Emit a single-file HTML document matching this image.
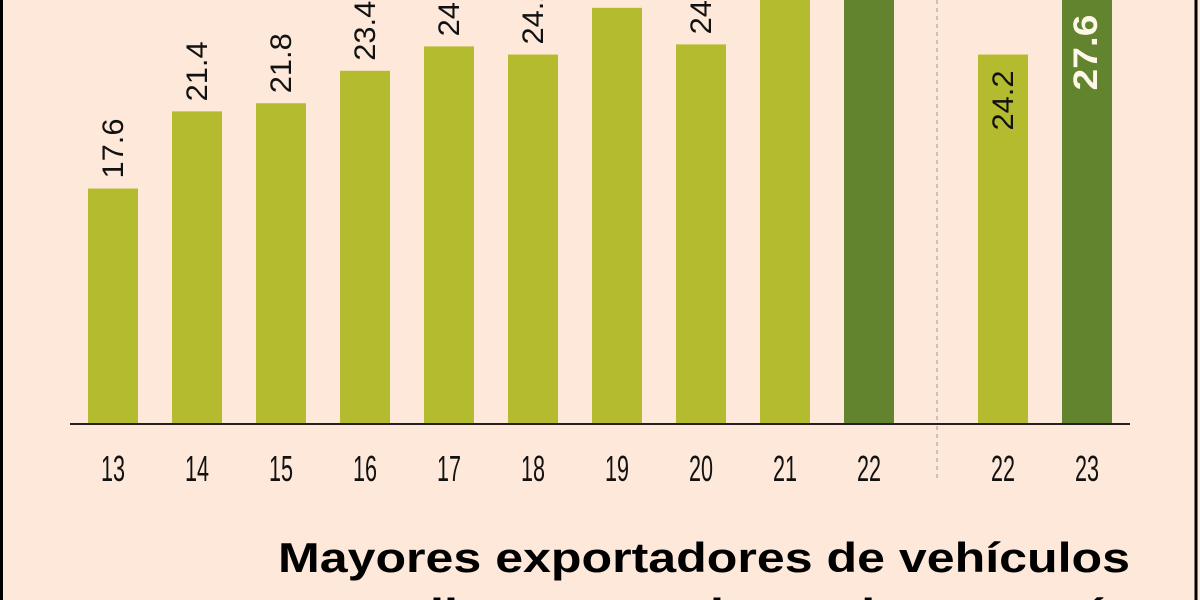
<!DOCTYPE html>
<html><head><meta charset="utf-8"><style>
html,body{margin:0;padding:0;background:#fde8da;width:1200px;height:600px;overflow:hidden;}
svg{display:block;}
</style></head><body>
<svg width="1200" height="600" viewBox="0 0 1200 600" font-family="Liberation Sans, sans-serif">
<rect x="0" y="0" width="1200" height="600" fill="#fde8da"/>
<line x1="1.5" y1="0" x2="1.5" y2="600" stroke="#000" stroke-width="3"/>
<line x1="1196" y1="0" x2="1196" y2="600" stroke="#000" stroke-width="3"/>
<g id="bars"></g>
<g id="labels"></g>
<g id="ticks"></g>
<line x1="70" y1="424" x2="1130" y2="424" stroke="#222" stroke-width="2"/>
<line x1="937" y1="426" x2="937" y2="480" stroke="#999" stroke-width="1" stroke-dasharray="4,4"/>
<line x1="937" y1="0" x2="937" y2="420" stroke="#999" stroke-width="1" stroke-dasharray="4,4"/>
<text x="1130" y="572" text-anchor="end" font-size="42" font-weight="bold" fill="#000" textLength="852" lengthAdjust="spacingAndGlyphs">Mayores exportadores de vehículos</text>
<text x="1130" y="628" text-anchor="end" font-size="42" font-weight="bold" fill="#000" textLength="700" lengthAdjust="spacingAndGlyphs">ligeros en el mundo, por país</text>
</svg>
<script>
const categories = ["13","14","15","16","17","18","19","20","21","22","22","23"];
const values = [17.6,21.4,21.8,23.4,24.6,24.2,26.5,24.7,27.2,28.0,24.2,27.6];
const valueLabels = ["17.6","21.4","21.8","23.4","24.6","24.2","26.5","24.7","27.2","28.0","24.2","27.6"];
const highlight = [false,false,false,false,false,false,false,false,false,true,false,true];

const baseY = 424, minV = 6, pxPerUnit = 20.3, barW = 50;
function yScale(v){ return baseY - (v - minV) * pxPerUnit; }
function xScale(i){ return 88 + i * 84 + (i >= 10 ? 50 : 0); }
const NS = "http://www.w3.org/2000/svg";
const gb = document.getElementById('bars'), gl = document.getElementById('labels'), gt = document.getElementById('ticks');
values.forEach((v, i) => {
  const x = xScale(i), y = yScale(v);
  const r = document.createElementNS(NS, 'rect');
  r.setAttribute('x', x); r.setAttribute('y', y);
  r.setAttribute('width', barW); r.setAttribute('height', baseY - y);
  r.setAttribute('fill', highlight[i] ? '#62842e' : '#b5bb2f');
  
  
  gb.appendChild(r);
  const t = document.createElementNS(NS, 'text');
  const cx = x + barW / 2 + 10;
  let ty = y - 10;
  t.setAttribute('font-size', '30');
  t.setAttribute('textLength', '60');
  t.setAttribute('lengthAdjust', 'spacingAndGlyphs');
  t.setAttribute('fill', '#111');
  if (i >= 10) {
    ty = y + (highlight[i] ? 105 : 76);
    if (highlight[i]) { t.setAttribute('fill', '#fff8e8'); t.setAttribute('font-weight', 'bold'); t.setAttribute('font-size', '34'); t.setAttribute('textLength', '76'); }
  }
  t.setAttribute('transform', 'translate(' + cx + ',' + ty + ') rotate(-90)');
  t.textContent = valueLabels[i];
  
  
  gl.appendChild(t);
  const k = document.createElementNS(NS, 'text');
  k.setAttribute('x', x + barW / 2); k.setAttribute('y', 481);
  k.setAttribute('text-anchor', 'middle'); k.setAttribute('font-size', '36');
  k.setAttribute('textLength', '24'); k.setAttribute('lengthAdjust', 'spacingAndGlyphs');
  k.setAttribute('fill', '#111');
  k.textContent = categories[i];
  
  
  gt.appendChild(k);
});
</script>
</body></html>
